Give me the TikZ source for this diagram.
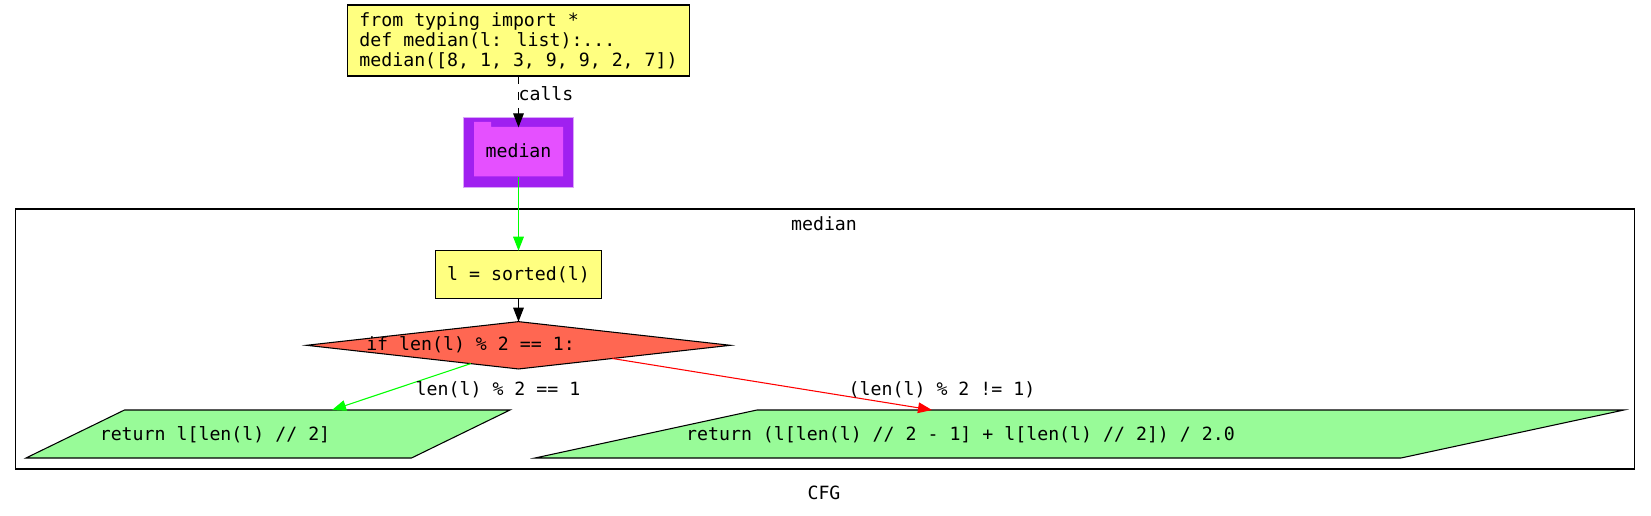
\documentclass[tikz,border=0pt]{standalone}
\usepackage{fontspec}
\setmainfont{DejaVu Sans Mono}
\usetikzlibrary{arrows.meta,shapes.geometric}
\definecolor{boxyellow}{HTML}{FFFF80}
\definecolor{condred}{HTML}{FF6752}
\definecolor{retgreen}{HTML}{98FB98}
\definecolor{folderdark}{HTML}{A020F0}
\definecolor{folderlight}{HTML}{E550FF}
\definecolor{edgegreen}{HTML}{00FF00}
\definecolor{edgered}{HTML}{FF0000}
\tikzset{
  code/.style={font=\fontsize{13.67}{15}\selectfont, inner sep=0pt, outer sep=0pt},
  labeltext/.style={code, anchor=base},
  codebox/.style={code, draw=black, fill=boxyellow, line width=0.8pt, align=left},
  edge/.style={line width=0.8pt, -{Triangle[length=10.5pt,width=8pt]}},
  retshape/.style={draw=black, fill=retgreen, line width=0.8pt, line join=miter},
}
\begin{document}
\begin{tikzpicture}[x=0.75pt,y=-0.75pt]
\useasboundingbox (0,0) rectangle (1651,516);
\draw[black,line width=0.8pt] (15.5,209) rectangle (1634.5,469);
\node[labeltext] (clustertitle) at (824,231) {median};
\node[labeltext] (cfg) at (824,499.5) {CFG};
% top box
\node[codebox, minimum width=256.5pt, minimum height=53.25pt] (src) at (518.5,40.5)
  {from typing import *\\def median(l: list):...\\median([8, 1, 3, 9, 9, 2, 7])};
% folder
\path[fill=folderdark,draw=folderdark!40!white,line width=0.5pt] (463,117) rectangle (573.5,187);
\path[fill=folderlight] (474,122) -- (491,122) -- (491,127) -- (563,127) -- (563,176.5) -- (474,176.5) -- cycle;
\node[code, minimum width=66.75pt, minimum height=37pt, text height=10.35pt, text depth=2.3pt] (med) at (518.5,152) {median};
% body
\node[code, draw=black, fill=boxyellow, line width=0.8pt, minimum width=124.2pt, minimum height=36pt, text height=10.4pt, text depth=2pt] (sort) at (518.5,274.7) {l = sorted(l)};
\node[diamond, draw=black, fill=condred, line width=0.8pt, inner sep=0pt, outer sep=0pt, shape aspect=9.15, minimum width=318pt, minimum height=35.5pt] (cond) at (518.5,345.3) {};
\node[labeltext] (condtext) at (470.5,350) {if len(l) \% 2 == 1:};
\draw[retshape] (124.5,410) -- (510,410) -- (411.5,458) -- (26,458) -- cycle;
\node[labeltext] (ret1text) at (215,440) {return l[len(l) // 2]};
\draw[retshape] (757,410) -- (1624,410) -- (1401,458) -- (535,458) -- cycle;
\node[labeltext] (ret2text) at (960.5,440) {return (l[len(l) // 2 - 1] + l[len(l) // 2]) / 2.0};
\coordinate (t1) at (332,410);
\coordinate (t2) at (932,410);
% connectors
\draw[edge, dash pattern=on 6pt off 6pt] (src.south) -- (med.north);
\node[labeltext] (callslabel) at (546,101) {calls};
\draw[edge, edgegreen] (med.south) -- (sort.north);
\draw[edge] (sort.south) -- (cond.north);
\draw[edge, edgegreen] (cond.201.6) -- (t1);
\draw[edge, edgered] (cond.-8.9) -- (t2);
\node[labeltext] (greenlabel) at (498,395) {len(l) \% 2 == 1};
\node[labeltext] (redlabel) at (942,395) {(len(l) \% 2 != 1)};
\end{tikzpicture}
\end{document}
